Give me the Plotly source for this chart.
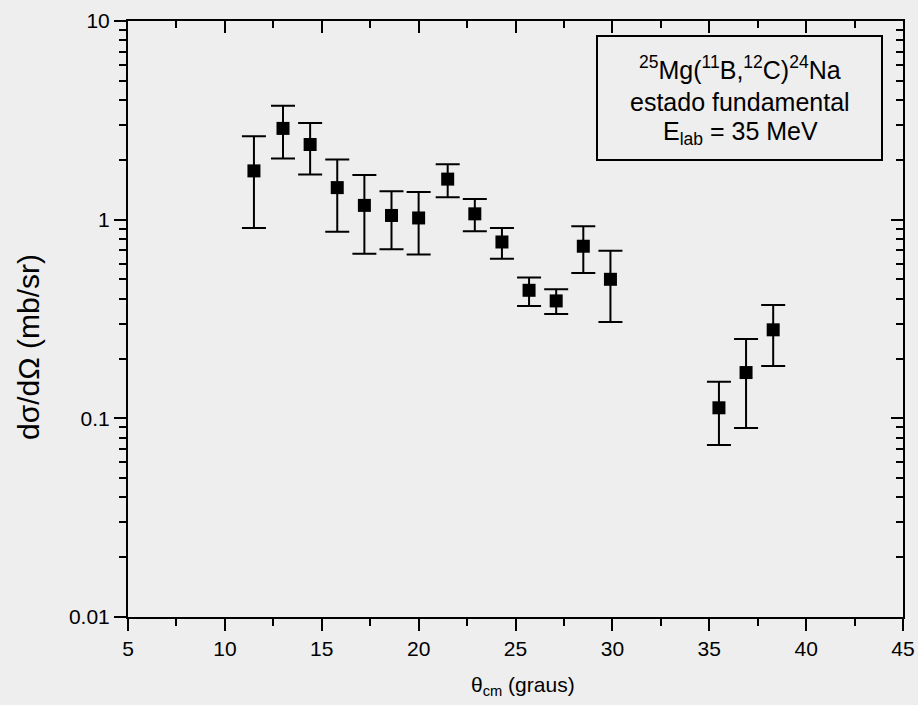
import plotly.graph_objects as go

theta = [11.5, 13.0, 14.4, 15.8, 17.2, 18.6, 20.0, 21.5, 22.9, 24.3, 25.7, 27.1, 28.5, 29.9, 35.5, 36.9, 38.3]
sigma = [1.76, 2.88, 2.39, 1.45, 1.18, 1.05, 1.02, 1.60, 1.07, 0.772, 0.441, 0.390, 0.735, 0.501, 0.113, 0.170, 0.279]
err_hi = [2.63, 3.75, 3.07, 2.01, 1.68, 1.39, 1.38, 1.90, 1.27, 0.908, 0.511, 0.447, 0.926, 0.698, 0.153, 0.251, 0.372]
err_lo = [0.908, 2.03, 1.69, 0.870, 0.674, 0.710, 0.667, 1.297, 0.874, 0.636, 0.368, 0.335, 0.539, 0.305, 0.0735, 0.0895, 0.1835]

x_ticks = [5, 10, 15, 20, 25, 30, 35, 40, 45]
x_minor = [7.5, 12.5, 17.5, 22.5, 27.5, 32.5, 37.5, 42.5]
y_ticks = [0.01, 0.1, 1, 10]
y_tick_labels = ["0.01", "0.1", "1", "10"]
y_minor = [m * d for d in (0.01, 0.1, 1) for m in range(2, 10)]

plus = [h - v for h, v in zip(err_hi, sigma)]
minus = [v - l for v, l in zip(sigma, err_lo)]

BG = "#eeeeee"
FONT = "Liberation Sans"

W, H = 918, 705
L, R, T, B = 128, 15, 21, 88
PW, PH = W - L - R, H - T - B


def px(x):
    return (x - L) / PW


def py(y):
    return (H - B - y) / PH


fig = go.Figure()
fig.add_trace(go.Scatter(
    x=theta, y=sigma, mode="markers",
    marker=dict(symbol="square", size=13, color="black"),
    error_y=dict(type="data", symmetric=False, array=plus, arrayminus=minus,
                 color="black", thickness=2, width=12),
    showlegend=False, hoverinfo="skip"))
# invisible trace so the mirror axes (top/right, inward ticks) are drawn
fig.add_trace(go.Scatter(x=[None], y=[None], xaxis="x2", yaxis="y2",
                         showlegend=False, hoverinfo="skip"))

common_x = dict(range=[5, 45], showgrid=False, zeroline=False, showline=True,
                linecolor="black", linewidth=2, tickcolor="black", tickwidth=2,
                ticklen=12, tickvals=x_ticks, automargin=False,
                minor=dict(tickvals=x_minor, ticklen=7, tickwidth=2, tickcolor="black"))
common_y = dict(type="log", range=[-2, 1], showgrid=False, zeroline=False, showline=True,
                linecolor="black", linewidth=2, tickcolor="black", tickwidth=2,
                ticklen=12, tickvals=y_ticks, ticktext=y_tick_labels, automargin=False,
                minor=dict(tickvals=y_minor, ticklen=7, tickwidth=2, tickcolor="black"))

fig.update_layout(
    width=W, height=H, autosize=False,
    margin=dict(l=L, r=R, t=T, b=B, autoexpand=False),
    paper_bgcolor=BG, plot_bgcolor=BG,
    font=dict(family=FONT, color="black", size=20),
    xaxis=dict(**common_x, ticks="outside", minor_ticks="outside",
               tickfont=dict(size=21, family=FONT, color="black")),
    yaxis=dict(**common_y, ticks="outside", minor_ticks="outside",
               tickfont=dict(size=21, family=FONT, color="black")),
    xaxis2=dict(**common_x, overlaying="x", side="top", ticks="inside",
                minor_ticks="inside", showticklabels=False),
    yaxis2=dict(**common_y, overlaying="y", side="right", ticks="inside",
                minor_ticks="inside", showticklabels=False),
)

# axis titles
fig.add_annotation(text="θ<sub>cm</sub> (graus)", xref="paper", yref="paper",
                   x=px(523), y=py(686), xanchor="center", yanchor="middle",
                   showarrow=False,
                   font=dict(size=21, family=FONT, color="black"))
fig.add_annotation(text="dσ/dΩ (mb/sr)", xref="paper", yref="paper",
                   x=px(28), y=py(347), xanchor="center", yanchor="middle",
                   textangle=-90, showarrow=False,
                   font=dict(size=30, family=FONT, color="black"))

# text box
fig.add_shape(type="rect", xref="paper", yref="paper",
              x0=px(597), x1=px(882), y0=py(160), y1=py(36),
              line=dict(color="black", width=2), fillcolor="rgba(0,0,0,0)")
cx = px(740)
lines = ["<sup>25</sup>Mg(<sup>11</sup>B,<sup>12</sup>C)<sup>24</sup>Na",
         "estado fundamental",
         "E<sub>lab</sub> = 35 MeV"]
ys = [68, 102, 133]
for t, yy in zip(lines, ys):
    fig.add_annotation(text=t, xref="paper", yref="paper", x=cx,
                       y=py(yy), xanchor="center", yanchor="middle",
                       showarrow=False,
                       font=dict(size=25, family=FONT, color="black"))

fig.write_html("out.html",
               config={"responsive": False, "displayModeBar": False},
               post_script="document.body.style.margin='0';document.body.style.overflow='hidden';")
